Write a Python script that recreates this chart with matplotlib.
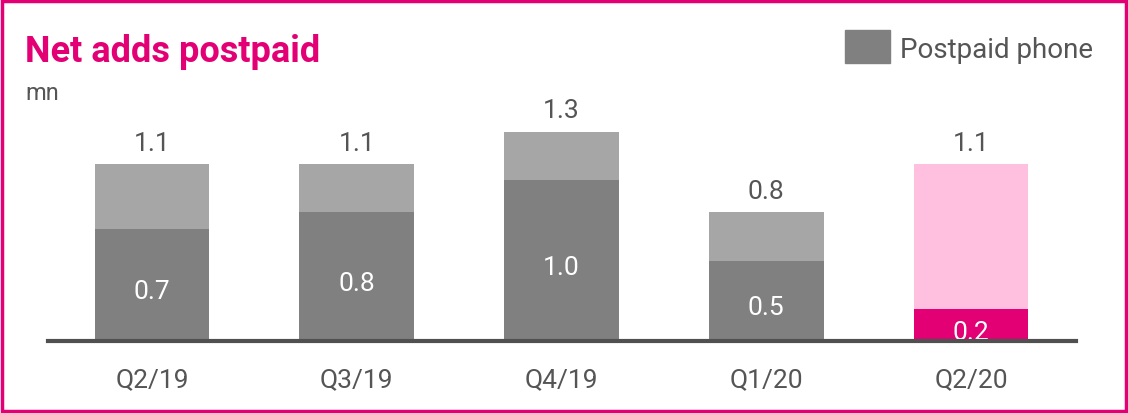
import numpy as np
import matplotlib.pyplot as plt
from matplotlib.patches import Rectangle

quarters = ['Q2/19', 'Q3/19', 'Q4/19', 'Q1/20', 'Q2/20']
phone = [0.7, 0.8, 1.0, 0.5, 0.2]
total = [1.1, 1.1, 1.3, 0.8, 1.1]

magenta = '#e20074'
grey_txt = '#555555'
plt.rcParams['font.family'] = ['Roboto', 'DejaVu Sans']

fig = plt.figure(figsize=(11.28, 4.14), dpi=100)
ax = fig.add_axes([48/1128, 72/414, 1028/1128, 242/414])

x = np.arange(len(quarters))
other = [t - p for t, p in zip(total, phone)]
low_col = ['#808080'] * 4 + [magenta]
top_col = ['#a6a6a6'] * 4 + ['#ffc0e0']

ax.bar(x, phone, width=0.56, color=low_col, zorder=2)
ax.bar(x, other, bottom=phone, width=0.56, color=top_col, zorder=2)

for i in range(len(x)):
    ax.annotate(f'{phone[i]:.1f}', (x[i], phone[i] / 2), xytext=(0, -3),
                textcoords='offset points', ha='center', va='center_baseline',
                color='white', fontsize=19, zorder=3)
    ax.annotate(f'{total[i]:.1f}', (x[i], total[i]), xytext=(0, 7),
                textcoords='offset points', ha='center', va='bottom',
                color=grey_txt, fontsize=19)

ax.axhline(0, color='#505050', lw=3, zorder=4, clip_on=False)
ax.set_xlim(-0.508, 4.513)
ax.set_ylim(0, 1.506)
ax.set_xticks(x)
ax.set_xticklabels(quarters, fontsize=19, color=grey_txt)
ax.tick_params(axis='x', length=0, pad=19)
ax.set_yticks([])
for s in ax.spines.values():
    s.set_visible(False)

fig.text(25/1128, 1 - 62/414, 'Net adds postpaid', color=magenta,
         fontsize=26, fontweight='bold')
fig.text(25/1128, 1 - 100/414, 'mn', color=grey_txt, fontsize=17)

fig.patches.append(Rectangle((845/1128, 1 - 64/414), 45/1128, 33/414,
                             transform=fig.transFigure, color='#808080'))
fig.text(900/1128, 1 - 51/414, 'Postpaid phone', color=grey_txt, fontsize=20,
         va='center')

fig.patches.append(Rectangle((0.0015, 0.004), 0.997, 0.992, transform=fig.transFigure,
                             fill=False, edgecolor=magenta, lw=2.5))

plt.savefig('out.png', dpi=100)
